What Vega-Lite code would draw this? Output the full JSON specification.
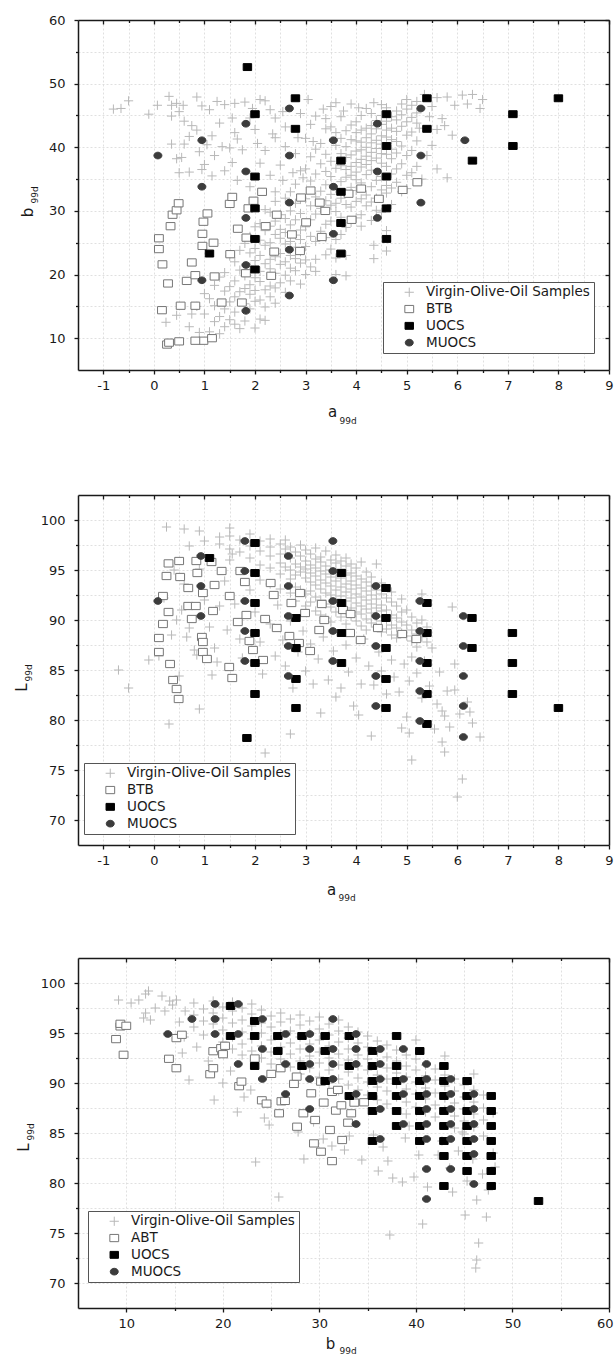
{
"$schema": "https://vega.github.io/schema/vega-lite/v6.json",
"padding": {"left": 14, "top": 14, "right": 0, "bottom": 0},
"spacing": 55,
"resolve": {"scale": {"shape": "independent", "fill": "independent", "stroke": "independent", "size": "independent"}, "legend": {"shape": "independent", "fill": "independent", "stroke": "independent", "size": "independent"}},
"config": {
  "view": {"stroke": null},
  "font": "DejaVu Sans",
  "axis": {"labelFont": "DejaVu Sans", "labelFontSize": 13, "labelColor": "#1a1a1a", "domainColor": "#1a1a1a", "domainWidth": 1.5, "tickColor": "#1a1a1a", "tickWidth": 1.3, "titleFont": "DejaVu Sans", "titleColor": "#1a1a1a", "titleFontWeight": "normal", "gridColor": "#d8d8d8", "gridDash": [2, 2], "gridWidth": 0.8, "labelOverlap": false, "labelFlush": false, "labelBound": false}
},
"vconcat": [
{
  "width": 531, "height": 350,
  "data": {"values": [
{"x":-0.8,"y":46,"g":"V"},{"x":-0.5,"y":47.3,"g":"V"},{"x":-0.65,"y":46.1,"g":"V"},{"x":-0.1,"y":45.2,"g":"V"},{"x":0.07,"y":46.6,"g":"V"},{"x":0.3,"y":48,"g":"V"},{"x":0.35,"y":46.6,"g":"V"},{"x":0.45,"y":46.9,"g":"V"},{"x":0.5,"y":45.6,"g":"V"},{"x":0.58,"y":46.6,"g":"V"},{"x":0.85,"y":47.9,"g":"V"},{"x":0.95,"y":46.5,"g":"V"},{"x":1.1,"y":45.9,"g":"V"},{"x":1.25,"y":47.2,"g":"V"},{"x":1.4,"y":46.7,"g":"V"},{"x":1.55,"y":44.6,"g":"V"},{"x":1.6,"y":46.9,"g":"V"},{"x":1.8,"y":47.1,"g":"V"},{"x":1.95,"y":46.1,"g":"V"},{"x":2.1,"y":47.5,"g":"V"},{"x":2.2,"y":47.3,"g":"V"},{"x":2.3,"y":45.9,"g":"V"},{"x":2.4,"y":44.6,"g":"V"},{"x":2.55,"y":45.6,"g":"V"},{"x":2.9,"y":45.3,"g":"V"},{"x":3.05,"y":47.5,"g":"V"},{"x":3.2,"y":44.9,"g":"V"},{"x":3.35,"y":46,"g":"V"},{"x":3.5,"y":46.4,"g":"V"},{"x":3.6,"y":47,"g":"V"},{"x":3.75,"y":45.7,"g":"V"},{"x":3.9,"y":46.8,"g":"V"},{"x":4.05,"y":46.2,"g":"V"},{"x":4.2,"y":46.1,"g":"V"},{"x":4.35,"y":47,"g":"V"},{"x":0.35,"y":44.9,"g":"V"},{"x":0.75,"y":43.4,"g":"V"},{"x":1.3,"y":43.8,"g":"V"},{"x":2.6,"y":43.2,"g":"V"},{"x":3.1,"y":43.6,"g":"V"},{"x":3.4,"y":42.9,"g":"V"},{"x":0.6,"y":44.1,"g":"V"},{"x":1.9,"y":44.6,"g":"V"},{"x":2,"y":42.8,"g":"V"},{"x":2.35,"y":42.1,"g":"V"},{"x":2.85,"y":41.5,"g":"V"},{"x":3.15,"y":40.9,"g":"V"},
{"x":0.35,"y":40.5,"g":"V"},{"x":0.6,"y":40.5,"g":"V"},{"x":0.45,"y":38.2,"g":"V"},{"x":0.55,"y":38.4,"g":"V"},{"x":0.7,"y":41.7,"g":"V"},{"x":0.9,"y":39.3,"g":"V"},{"x":1.05,"y":40.4,"g":"V"},{"x":1.15,"y":41.8,"g":"V"},{"x":1.2,"y":38.7,"g":"V"},{"x":1.35,"y":40.1,"g":"V"},{"x":1.5,"y":39.9,"g":"V"},{"x":1.65,"y":41.3,"g":"V"},{"x":1.55,"y":37.6,"g":"V"},{"x":1.75,"y":39.6,"g":"V"},{"x":2.05,"y":40.6,"g":"V"},{"x":2.2,"y":39.5,"g":"V"},{"x":2.4,"y":41.5,"g":"V"},{"x":2.5,"y":37.2,"g":"V"},{"x":2.6,"y":40.1,"g":"V"},{"x":2.8,"y":39,"g":"V"},{"x":3,"y":41.4,"g":"V"},{"x":2.9,"y":36.3,"g":"V"},{"x":0.7,"y":36.1,"g":"V"},{"x":0.95,"y":36.5,"g":"V"},{"x":1.15,"y":35.5,"g":"V"},{"x":1.4,"y":36.3,"g":"V"},{"x":1.65,"y":34.8,"g":"V"},{"x":2.1,"y":37.5,"g":"V"},{"x":2.3,"y":35.6,"g":"V"},{"x":2.55,"y":34.8,"g":"V"},{"x":2.75,"y":36,"g":"V"},{"x":2.95,"y":35.2,"g":"V"},{"x":1,"y":37.3,"g":"V"},{"x":0.85,"y":42.7,"g":"V"},{"x":1.6,"y":42.3,"g":"V"},{"x":0.5,"y":36,"g":"V"},{"x":1.9,"y":33.8,"g":"V"},{"x":2.4,"y":33,"g":"V"},{"x":2.8,"y":34.2,"g":"V"},
{"x":3,"y":27.5,"g":"V"},{"x":3,"y":31.9,"g":"V"},{"x":3,"y":36.6,"g":"V"},{"x":3,"y":24.4,"g":"V"},{"x":3.1,"y":26,"g":"V"},{"x":3.1,"y":28.6,"g":"V"},{"x":3.1,"y":30.8,"g":"V"},{"x":3.1,"y":34.7,"g":"V"},{"x":3.1,"y":38.5,"g":"V"},{"x":3.2,"y":25.2,"g":"V"},{"x":3.2,"y":29.5,"g":"V"},{"x":3.2,"y":32.2,"g":"V"},{"x":3.2,"y":35.8,"g":"V"},{"x":3.2,"y":39.7,"g":"V"},{"x":3.3,"y":26.8,"g":"V"},{"x":3.3,"y":30.4,"g":"V"},{"x":3.3,"y":33.1,"g":"V"},{"x":3.3,"y":37.4,"g":"V"},{"x":3.3,"y":40.6,"g":"V"},{"x":3.4,"y":25.8,"g":"V"},{"x":3.4,"y":27.9,"g":"V"},{"x":3.4,"y":31.6,"g":"V"},{"x":3.4,"y":34.1,"g":"V"},{"x":3.4,"y":36.2,"g":"V"},{"x":3.4,"y":38.9,"g":"V"},{"x":3.4,"y":44.5,"g":"V"},{"x":3.5,"y":24,"g":"V"},{"x":3.5,"y":28.4,"g":"V"},{"x":3.5,"y":30.9,"g":"V"},{"x":3.5,"y":32.6,"g":"V"},{"x":3.5,"y":35.4,"g":"V"},{"x":3.5,"y":37.8,"g":"V"},{"x":3.5,"y":43.2,"g":"V"},{"x":3.6,"y":25.5,"g":"V"},{"x":3.6,"y":29.9,"g":"V"},{"x":3.6,"y":31.2,"g":"V"},{"x":3.6,"y":33.5,"g":"V"},{"x":3.6,"y":36.7,"g":"V"},{"x":3.6,"y":40.3,"g":"V"},{"x":3.6,"y":42.3,"g":"V"},{"x":3.7,"y":26.3,"g":"V"},{"x":3.7,"y":29,"g":"V"},{"x":3.7,"y":32,"g":"V"},{"x":3.7,"y":34.6,"g":"V"},{"x":3.7,"y":37.1,"g":"V"},{"x":3.7,"y":39,"g":"V"},{"x":3.7,"y":41.4,"g":"V"},{"x":3.7,"y":44.8,"g":"V"},{"x":3.8,"y":27.4,"g":"V"},{"x":3.8,"y":31,"g":"V"},{"x":3.8,"y":32.8,"g":"V"},{"x":3.8,"y":35.3,"g":"V"},{"x":3.8,"y":36.5,"g":"V"},{"x":3.8,"y":38.4,"g":"V"},{"x":3.8,"y":40.1,"g":"V"},{"x":3.8,"y":42.6,"g":"V"},{"x":3.9,"y":28.2,"g":"V"},{"x":3.9,"y":30.6,"g":"V"},{"x":3.9,"y":33.7,"g":"V"},{"x":3.9,"y":35.6,"g":"V"},{"x":3.9,"y":37,"g":"V"},{"x":3.9,"y":38.8,"g":"V"},{"x":3.9,"y":41.2,"g":"V"},{"x":3.9,"y":43.5,"g":"V"},{"x":4,"y":28.9,"g":"V"},{"x":4,"y":31.5,"g":"V"},{"x":4,"y":33.2,"g":"V"},{"x":4,"y":34.9,"g":"V"},{"x":4,"y":36.1,"g":"V"},{"x":4,"y":37.6,"g":"V"},{"x":4,"y":39.4,"g":"V"},{"x":4,"y":41,"g":"V"},{"x":4,"y":42.3,"g":"V"},{"x":4,"y":44,"g":"V"},{"x":4.1,"y":27.6,"g":"V"},{"x":4.1,"y":29.4,"g":"V"},{"x":4.1,"y":31.9,"g":"V"},{"x":4.1,"y":34.4,"g":"V"},{"x":4.1,"y":36.9,"g":"V"},{"x":4.1,"y":38.1,"g":"V"},{"x":4.1,"y":39.6,"g":"V"},{"x":4.1,"y":40.8,"g":"V"},{"x":4.1,"y":42.7,"g":"V"},{"x":4.1,"y":45,"g":"V"},{"x":4.2,"y":30.8,"g":"V"},{"x":4.2,"y":32.5,"g":"V"},{"x":4.2,"y":35.7,"g":"V"},{"x":4.2,"y":37.3,"g":"V"},{"x":4.2,"y":38.6,"g":"V"},{"x":4.2,"y":40,"g":"V"},{"x":4.2,"y":41.5,"g":"V"},{"x":4.2,"y":43,"g":"V"},{"x":4.3,"y":28.5,"g":"V"},{"x":4.3,"y":31.4,"g":"V"},{"x":4.3,"y":33.8,"g":"V"},{"x":4.3,"y":36.4,"g":"V"},{"x":4.3,"y":37.9,"g":"V"},{"x":4.3,"y":39.2,"g":"V"},{"x":4.3,"y":40.7,"g":"V"},{"x":4.3,"y":42.1,"g":"V"},{"x":4.3,"y":43.4,"g":"V"},{"x":4.3,"y":45.3,"g":"V"},{"x":4.4,"y":30.1,"g":"V"},{"x":4.4,"y":32,"g":"V"},{"x":4.4,"y":34.8,"g":"V"},{"x":4.4,"y":38.3,"g":"V"},{"x":4.4,"y":39.8,"g":"V"},{"x":4.4,"y":41.1,"g":"V"},{"x":4.4,"y":42.9,"g":"V"},{"x":4.4,"y":44.2,"g":"V"},{"x":4.5,"y":29.8,"g":"V"},{"x":4.5,"y":33.3,"g":"V"},{"x":4.5,"y":35.4,"g":"V"},{"x":4.5,"y":37.5,"g":"V"},{"x":4.5,"y":39,"g":"V"},{"x":4.5,"y":40.5,"g":"V"},{"x":4.5,"y":41.8,"g":"V"},{"x":4.5,"y":43.6,"g":"V"},{"x":4.5,"y":45,"g":"V"},{"x":4.5,"y":46.7,"g":"V"},{"x":4.6,"y":32.8,"g":"V"},{"x":4.6,"y":34,"g":"V"},{"x":4.6,"y":37,"g":"V"},{"x":4.6,"y":38.9,"g":"V"},{"x":4.6,"y":41.6,"g":"V"},{"x":4.6,"y":42.7,"g":"V"},{"x":4.6,"y":44.1,"g":"V"},{"x":4.6,"y":46.2,"g":"V"},{"x":4.7,"y":31,"g":"V"},{"x":4.7,"y":33.6,"g":"V"},{"x":4.7,"y":35.8,"g":"V"},{"x":4.7,"y":38.2,"g":"V"},{"x":4.7,"y":39.7,"g":"V"},{"x":4.7,"y":41.2,"g":"V"},{"x":4.7,"y":43,"g":"V"},{"x":4.7,"y":44.8,"g":"V"},{"x":4.8,"y":34.5,"g":"V"},{"x":4.8,"y":36.6,"g":"V"},{"x":4.8,"y":39.1,"g":"V"},{"x":4.8,"y":40.9,"g":"V"},{"x":4.8,"y":42.5,"g":"V"},{"x":4.8,"y":44.3,"g":"V"},{"x":4.8,"y":45.7,"g":"V"},{"x":4.9,"y":33,"g":"V"},{"x":4.9,"y":37.4,"g":"V"},{"x":4.9,"y":40.2,"g":"V"},{"x":4.9,"y":43.3,"g":"V"},{"x":4.9,"y":45.1,"g":"V"},{"x":4.9,"y":46.8,"g":"V"},{"x":5,"y":35.6,"g":"V"},{"x":5,"y":38.7,"g":"V"},{"x":5,"y":41.9,"g":"V"},{"x":5,"y":44,"g":"V"},{"x":5,"y":46,"g":"V"},{"x":5,"y":47.5,"g":"V"},{"x":5.1,"y":39.5,"g":"V"},{"x":5.1,"y":42.4,"g":"V"},{"x":5.1,"y":44.7,"g":"V"},{"x":5.1,"y":46.6,"g":"V"},{"x":5.2,"y":37,"g":"V"},{"x":5.2,"y":41,"g":"V"},{"x":5.2,"y":43.8,"g":"V"},{"x":5.2,"y":45.4,"g":"V"},
{"x":1,"y":13.8,"g":"V"},{"x":1,"y":17,"g":"V"},{"x":1.1,"y":11,"g":"V"},{"x":1.1,"y":16.2,"g":"V"},{"x":1.2,"y":12.6,"g":"V"},{"x":1.2,"y":15.1,"g":"V"},{"x":1.2,"y":18.3,"g":"V"},{"x":1.3,"y":10.7,"g":"V"},{"x":1.3,"y":13.4,"g":"V"},{"x":1.3,"y":19.6,"g":"V"},{"x":1.4,"y":11.8,"g":"V"},{"x":1.4,"y":14.6,"g":"V"},{"x":1.4,"y":17.4,"g":"V"},{"x":1.4,"y":20.3,"g":"V"},{"x":1.5,"y":12.9,"g":"V"},{"x":1.5,"y":15.7,"g":"V"},{"x":1.5,"y":18.1,"g":"V"},{"x":1.5,"y":22.9,"g":"V"},{"x":1.6,"y":12.2,"g":"V"},{"x":1.6,"y":14.1,"g":"V"},{"x":1.6,"y":16.5,"g":"V"},{"x":1.6,"y":19,"g":"V"},{"x":1.6,"y":22,"g":"V"},{"x":1.7,"y":11.5,"g":"V"},{"x":1.7,"y":17.3,"g":"V"},{"x":1.7,"y":20.7,"g":"V"},{"x":1.7,"y":23.8,"g":"V"},{"x":1.8,"y":12.7,"g":"V"},{"x":1.8,"y":15.4,"g":"V"},{"x":1.8,"y":17.8,"g":"V"},{"x":1.8,"y":19.8,"g":"V"},{"x":1.8,"y":24.9,"g":"V"},{"x":1.9,"y":14.6,"g":"V"},{"x":1.9,"y":16.9,"g":"V"},{"x":1.9,"y":18.4,"g":"V"},{"x":1.9,"y":21.2,"g":"V"},{"x":1.9,"y":23.4,"g":"V"},{"x":1.9,"y":26,"g":"V"},{"x":2,"y":11.6,"g":"V"},{"x":2,"y":15.8,"g":"V"},{"x":2,"y":17.5,"g":"V"},{"x":2,"y":19.5,"g":"V"},{"x":2,"y":22.2,"g":"V"},{"x":2,"y":24.1,"g":"V"},{"x":2,"y":27.5,"g":"V"},{"x":2.1,"y":13,"g":"V"},{"x":2.1,"y":16,"g":"V"},{"x":2.1,"y":18.9,"g":"V"},{"x":2.1,"y":20.5,"g":"V"},{"x":2.1,"y":23,"g":"V"},{"x":2.1,"y":25.4,"g":"V"},{"x":2.1,"y":28,"g":"V"},{"x":2.2,"y":12.8,"g":"V"},{"x":2.2,"y":14.9,"g":"V"},{"x":2.2,"y":17.6,"g":"V"},{"x":2.2,"y":21.7,"g":"V"},{"x":2.2,"y":24.6,"g":"V"},{"x":2.2,"y":26.9,"g":"V"},{"x":2.2,"y":30.2,"g":"V"},{"x":2.3,"y":16.5,"g":"V"},{"x":2.3,"y":18.2,"g":"V"},{"x":2.3,"y":20.9,"g":"V"},{"x":2.3,"y":22.4,"g":"V"},{"x":2.3,"y":25,"g":"V"},{"x":2.3,"y":27.6,"g":"V"},{"x":2.3,"y":29.8,"g":"V"},{"x":2.4,"y":15.5,"g":"V"},{"x":2.4,"y":17.9,"g":"V"},{"x":2.4,"y":20.2,"g":"V"},{"x":2.4,"y":22.8,"g":"V"},{"x":2.4,"y":26.3,"g":"V"},{"x":2.4,"y":28.4,"g":"V"},{"x":2.4,"y":31.5,"g":"V"},{"x":2.5,"y":18.7,"g":"V"},{"x":2.5,"y":21.6,"g":"V"},{"x":2.5,"y":23.3,"g":"V"},{"x":2.5,"y":25.7,"g":"V"},{"x":2.5,"y":27.1,"g":"V"},{"x":2.5,"y":29.4,"g":"V"},{"x":2.6,"y":17.2,"g":"V"},{"x":2.6,"y":19.9,"g":"V"},{"x":2.6,"y":22,"g":"V"},{"x":2.6,"y":24.8,"g":"V"},{"x":2.6,"y":26.6,"g":"V"},{"x":2.6,"y":28.8,"g":"V"},{"x":2.6,"y":32,"g":"V"},{"x":2.7,"y":19,"g":"V"},{"x":2.7,"y":21,"g":"V"},{"x":2.7,"y":23,"g":"V"},{"x":2.7,"y":25.2,"g":"V"},{"x":2.7,"y":27.8,"g":"V"},{"x":2.7,"y":30,"g":"V"},{"x":2.7,"y":33,"g":"V"},{"x":2.8,"y":20.6,"g":"V"},{"x":2.8,"y":22.5,"g":"V"},{"x":2.8,"y":24.3,"g":"V"},{"x":2.8,"y":26.2,"g":"V"},{"x":2.8,"y":28.6,"g":"V"},{"x":2.8,"y":31.2,"g":"V"},{"x":2.9,"y":18.5,"g":"V"},{"x":2.9,"y":21.8,"g":"V"},{"x":2.9,"y":23.6,"g":"V"},{"x":2.9,"y":25.5,"g":"V"},{"x":2.9,"y":27,"g":"V"},{"x":2.9,"y":29.6,"g":"V"},{"x":2.9,"y":31.8,"g":"V"},{"x":3,"y":20,"g":"V"},{"x":3,"y":22.3,"g":"V"},{"x":3.1,"y":21.2,"g":"V"},{"x":3.2,"y":22.4,"g":"V"},{"x":3.2,"y":20.5,"g":"V"},{"x":3.4,"y":23.1,"g":"V"},{"x":3.6,"y":20,"g":"V"},{"x":3.6,"y":22.6,"g":"V"},{"x":3.8,"y":19.8,"g":"V"},{"x":3.8,"y":23,"g":"V"},{"x":4.35,"y":22.5,"g":"V"},{"x":4.35,"y":24.6,"g":"V"},{"x":4.6,"y":23.7,"g":"V"},{"x":4.6,"y":26.9,"g":"V"},
{"x":5.2,"y":47.2,"g":"V"},{"x":5.35,"y":48.3,"g":"V"},{"x":5.5,"y":46.4,"g":"V"},{"x":5.6,"y":47.8,"g":"V"},{"x":5.7,"y":44.5,"g":"V"},{"x":5.8,"y":47.9,"g":"V"},{"x":5.95,"y":46.6,"g":"V"},{"x":6.1,"y":48.2,"g":"V"},{"x":6.2,"y":46.8,"g":"V"},{"x":6.3,"y":48.3,"g":"V"},{"x":6.45,"y":46.1,"g":"V"},{"x":6.5,"y":47.5,"g":"V"},{"x":5.6,"y":42.8,"g":"V"},{"x":5.75,"y":43.4,"g":"V"},{"x":5.5,"y":40.3,"g":"V"},{"x":5.9,"y":41.9,"g":"V"},{"x":5.4,"y":38.7,"g":"V"},{"x":5.6,"y":36.6,"g":"V"},{"x":5.8,"y":35.2,"g":"V"},{"x":5,"y":33.5,"g":"V"},{"x":5.1,"y":36,"g":"V"},{"x":5.3,"y":35,"g":"V"},{"x":5.45,"y":44.8,"g":"V"},{"x":5.25,"y":43,"g":"V"},{"x":0.24,"y":12.5,"g":"V"},{"x":0.7,"y":11.8,"g":"V"},{"x":0.9,"y":10.9,"g":"V"},{"x":0.75,"y":13.8,"g":"V"},{"x":0.85,"y":15,"g":"V"},{"x":0.45,"y":13.6,"g":"V"},
{"x":0.1,"y":25.7,"g":"B"},{"x":0.1,"y":24,"g":"B"},{"x":0.17,"y":21.6,"g":"B"},{"x":0.28,"y":18.6,"g":"B"},{"x":0.16,"y":14.4,"g":"B"},{"x":0.26,"y":9,"g":"B"},{"x":0.3,"y":9.3,"g":"B"},{"x":0.33,"y":27.6,"g":"B"},{"x":0.37,"y":29.4,"g":"B"},{"x":0.45,"y":30.1,"g":"B"},{"x":0.49,"y":31.2,"g":"B"},{"x":0.53,"y":15.1,"g":"B"},{"x":0.5,"y":9.5,"g":"B"},{"x":0.65,"y":19,"g":"B"},{"x":0.75,"y":21.9,"g":"B"},{"x":0.82,"y":19.9,"g":"B"},{"x":0.82,"y":15.1,"g":"B"},{"x":0.98,"y":28.3,"g":"B"},{"x":0.96,"y":26.4,"g":"B"},{"x":0.96,"y":24.5,"g":"B"},{"x":1.06,"y":29.6,"g":"B"},{"x":1.18,"y":25,"g":"B"},{"x":1.2,"y":19.7,"g":"B"},{"x":0.98,"y":9.6,"g":"B"},{"x":1.15,"y":10,"g":"B"},{"x":0.82,"y":9.6,"g":"B"},{"x":1.34,"y":15.6,"g":"B"},{"x":1.51,"y":23.2,"g":"B"},{"x":1.5,"y":31.1,"g":"B"},{"x":1.55,"y":32.2,"g":"B"},{"x":1.66,"y":27.2,"g":"B"},{"x":1.74,"y":15.6,"g":"B"},{"x":1.82,"y":20.2,"g":"B"},{"x":1.83,"y":25.8,"g":"B"},{"x":1.97,"y":31.6,"g":"B"},{"x":1.87,"y":30.4,"g":"B"},{"x":2.14,"y":33,"g":"B"},{"x":2.21,"y":27.6,"g":"B"},{"x":2.32,"y":19.8,"g":"B"},{"x":2.38,"y":23.6,"g":"B"},{"x":2.43,"y":29.4,"g":"B"},{"x":2.73,"y":26.3,"g":"B"},{"x":2.89,"y":23.7,"g":"B"},{"x":2.91,"y":32.1,"g":"B"},{"x":3.01,"y":28.2,"g":"B"},{"x":3.1,"y":33.2,"g":"B"},{"x":3.28,"y":31.3,"g":"B"},{"x":3.32,"y":25.9,"g":"B"},{"x":3.39,"y":30,"g":"B"},{"x":3.85,"y":32.7,"g":"B"},{"x":3.91,"y":28.6,"g":"B"},{"x":4.1,"y":33.5,"g":"B"},{"x":4.45,"y":31.9,"g":"B"},{"x":4.92,"y":33.3,"g":"B"},{"x":5.21,"y":34.5,"g":"B"},
{"x":1.85,"y":52.6,"g":"U"},{"x":2,"y":45.2,"g":"U"},{"x":2.8,"y":47.7,"g":"U"},{"x":2.8,"y":42.9,"g":"U"},{"x":2,"y":35.4,"g":"U"},{"x":2,"y":30.4,"g":"U"},{"x":2,"y":25.6,"g":"U"},{"x":2,"y":20.8,"g":"U"},{"x":1.1,"y":23.3,"g":"U"},{"x":3.7,"y":37.9,"g":"U"},{"x":3.7,"y":33,"g":"U"},{"x":3.7,"y":28.1,"g":"U"},{"x":3.7,"y":23.3,"g":"U"},{"x":4.6,"y":45.2,"g":"U"},{"x":4.6,"y":40.2,"g":"U"},{"x":4.6,"y":35.4,"g":"U"},{"x":4.6,"y":30.4,"g":"U"},{"x":4.6,"y":25.6,"g":"U"},{"x":5.4,"y":47.7,"g":"U"},{"x":5.4,"y":42.9,"g":"U"},{"x":6.3,"y":37.9,"g":"U"},{"x":7.1,"y":45.2,"g":"U"},{"x":7.1,"y":40.2,"g":"U"},{"x":8,"y":47.7,"g":"U"},
{"x":0.08,"y":38.7,"g":"M"},{"x":0.95,"y":41.1,"g":"M"},{"x":0.95,"y":33.8,"g":"M"},{"x":0.95,"y":19.1,"g":"M"},{"x":1.82,"y":43.7,"g":"M"},{"x":1.82,"y":36.2,"g":"M"},{"x":1.82,"y":28.9,"g":"M"},{"x":1.82,"y":21.5,"g":"M"},{"x":1.82,"y":14.3,"g":"M"},{"x":2.68,"y":46.1,"g":"M"},{"x":2.68,"y":38.7,"g":"M"},{"x":2.68,"y":31.3,"g":"M"},{"x":2.68,"y":23.9,"g":"M"},{"x":2.68,"y":16.7,"g":"M"},{"x":3.55,"y":41.1,"g":"M"},{"x":3.55,"y":33.8,"g":"M"},{"x":3.55,"y":26.4,"g":"M"},{"x":3.55,"y":19.1,"g":"M"},{"x":4.42,"y":43.7,"g":"M"},{"x":4.42,"y":36.2,"g":"M"},{"x":4.42,"y":28.9,"g":"M"},{"x":5.28,"y":46.1,"g":"M"},{"x":5.28,"y":38.7,"g":"M"},{"x":5.28,"y":31.3,"g":"M"},{"x":6.15,"y":41.1,"g":"M"}
  ]},
  "layer": [
    {"mark": {"type": "point", "strokeWidth": 1, "opacity": 1},
     "encoding": {
       "x": {"field": "x", "type": "quantitative", "scale": {"domain": [-1.5, 9], "nice": false, "zero": false},
             "axis": {"orient": "bottom", "values": [-1,-0.5,0,0.5,1,1.5,2,2.5,3,3.5,4,4.5,5,5.5,6,6.5,7,7.5,8,8.5,9], "tickSize": {"condition": {"test": "datum.value % 1 === 0", "value": 4}, "value": 2.5}, "labelExpr": "datum.value % 1 === 0 ? '' + datum.value : ''", "labelPadding": 5, "grid": true, "title": "a", "titleFontSize": 15, "titleX": 254, "titleY": 46, "titleAlign": "center", "titleBaseline": "alphabetic", "titleAngle": 0}},
       "y": {"field": "y", "type": "quantitative", "scale": {"domain": [5, 60], "nice": false, "zero": false},
             "axis": {"orient": "left", "values": [10,15,20,25,30,35,40,45,50,55,60], "tickSize": {"condition": {"test": "datum.value % 10 === 0", "value": 4}, "value": 2.5}, "labelExpr": "datum.value % 10 === 0 ? '' + datum.value : ''", "labelPadding": 9, "grid": true, "title": "b", "titleFontSize": 15, "titleX": -46, "titleY": 192, "titleAlign": "center", "titleBaseline": "alphabetic", "titleAngle": -90}},
       "shape": {"field": "g", "type": "nominal", "scale": {"domain": ["V","B","U","M"], "range": ["M-1,0H1M0,-1V1", "M-1,-0.82H1V0.82H-1Z", "M-1,-0.82H1V0.82H-1Z", "M-1,0A1,0.84,0,1,1,1,0A1,0.84,0,1,1,-1,0Z"]},
                 "legend": {"orient": "none", "legendX": 305, "legendY": 262, "title": null, "labelExpr": "datum.label == 'V' ? 'Virgin-Olive-Oil Samples' : datum.label == 'B' ? 'BTB' : datum.label == 'U' ? 'UOCS' : 'MUOCS'", "strokeColor": "#555555", "fillColor": "#ffffff", "padding": 3.5, "symbolOffset": 16, "labelOffset": 10, "rowPadding": 1.8, "labelFontSize": 13.5, "labelFont": "DejaVu Sans", "labelColor": "#1a1a1a", "symbolStrokeWidth": 1, "labelLimit": 400}},
       "fill": {"field": "g", "type": "nominal", "scale": {"domain": ["V","B","U","M"], "range": ["transparent", "#ffffff", "#000000", "#3c3c3c"]},
                 "legend": {"orient": "none", "legendX": 305, "legendY": 262, "title": null, "labelExpr": "datum.label == 'V' ? 'Virgin-Olive-Oil Samples' : datum.label == 'B' ? 'BTB' : datum.label == 'U' ? 'UOCS' : 'MUOCS'", "strokeColor": "#555555", "fillColor": "#ffffff", "padding": 3.5, "symbolOffset": 16, "labelOffset": 10, "rowPadding": 1.8, "labelFontSize": 13.5, "labelFont": "DejaVu Sans", "labelColor": "#1a1a1a", "symbolStrokeWidth": 1, "labelLimit": 400}},
       "stroke": {"field": "g", "type": "nominal", "scale": {"domain": ["V","B","U","M"], "range": ["#b8b8b8", "#767676", "#000000", "#3c3c3c"]},
                 "legend": {"orient": "none", "legendX": 305, "legendY": 262, "title": null, "labelExpr": "datum.label == 'V' ? 'Virgin-Olive-Oil Samples' : datum.label == 'B' ? 'BTB' : datum.label == 'U' ? 'UOCS' : 'MUOCS'", "strokeColor": "#555555", "fillColor": "#ffffff", "padding": 3.5, "symbolOffset": 16, "labelOffset": 10, "rowPadding": 1.8, "labelFontSize": 13.5, "labelFont": "DejaVu Sans", "labelColor": "#1a1a1a", "symbolStrokeWidth": 1, "labelLimit": 400}},
       "size": {"field": "g", "type": "nominal", "scale": {"domain": ["V","B","U","M"], "range": [85, 64, 68, 144]},
                 "legend": {"orient": "none", "legendX": 305, "legendY": 262, "title": null, "labelExpr": "datum.label == 'V' ? 'Virgin-Olive-Oil Samples' : datum.label == 'B' ? 'BTB' : datum.label == 'U' ? 'UOCS' : 'MUOCS'", "strokeColor": "#555555", "fillColor": "#ffffff", "padding": 3.5, "symbolOffset": 16, "labelOffset": 10, "rowPadding": 1.8, "labelFontSize": 13.5, "labelFont": "DejaVu Sans", "labelColor": "#1a1a1a", "symbolStrokeWidth": 1, "labelLimit": 400}}
     }},
    {"data": {"values": [{"x": 0, "y": 10}]}, "mark": {"type": "point", "opacity": 0},
     "encoding": {
       "x": {"field": "x", "type": "quantitative", "scale": {"domain": [-1.5, 9], "nice": false, "zero": false},
             "axis": {"orient": "top", "values": [-1,-0.5,0,0.5,1,1.5,2,2.5,3,3.5,4,4.5,5,5.5,6,6.5,7,7.5,8,8.5,9], "tickSize": {"condition": {"test": "datum.value % 1 === 0", "value": -4}, "value": -2.5}, "labels": false, "grid": false, "title": null}},
       "y": {"field": "y", "type": "quantitative", "scale": {"domain": [5, 60], "nice": false, "zero": false},
             "axis": {"orient": "right", "values": [10,15,20,25,30,35,40,45,50,55,60], "tickSize": {"condition": {"test": "datum.value % 10 === 0", "value": -4}, "value": -2.5}, "labels": false, "grid": false, "title": null}}
     }},
    {"data": {"values": [{"x": 0, "y": 10}]}, "mark": {"type": "point", "opacity": 0},
     "encoding": {
       "x": {"field": "x", "type": "quantitative", "scale": {"domain": [-1.5, 9], "nice": false, "zero": false},
             "axis": {"orient": "bottom", "labels": false, "ticks": false, "domain": false, "grid": false, "title": "99d", "titleFontSize": 9, "titleX": 261, "titleY": 53, "titleAlign": "left", "titleBaseline": "alphabetic", "titleAngle": 0}},
       "y": {"field": "y", "type": "quantitative", "scale": {"domain": [5, 60], "nice": false, "zero": false},
             "axis": {"orient": "left", "labels": false, "ticks": false, "domain": false, "grid": false, "title": "99d", "titleFontSize": 9, "titleX": -41, "titleY": 183, "titleAlign": "left", "titleBaseline": "alphabetic", "titleAngle": -90}}
     }}
  ],
  "resolve": {"axis": {"x": "independent", "y": "independent"}}
},
{
  "width": 531, "height": 350,
  "title": {"text": " ", "fontSize": 12, "offset": 1},
  "data": {"values": [
{"x":0.25,"y":99.3,"g":"V"},{"x":0.6,"y":99.1,"g":"V"},{"x":0.9,"y":98.9,"g":"V"},{"x":1.5,"y":99.2,"g":"V"},{"x":-0.7,"y":85,"g":"V"},{"x":-0.5,"y":83.2,"g":"V"},{"x":-0.1,"y":86,"g":"V"},{"x":0.3,"y":79.6,"g":"V"},{"x":0.9,"y":81.1,"g":"V"},{"x":2.2,"y":76.7,"g":"V"},{"x":2.7,"y":78.6,"g":"V"},{"x":3.3,"y":80.7,"g":"V"},{"x":4.3,"y":78.4,"g":"V"},{"x":4.05,"y":80.5,"g":"V"},{"x":5.1,"y":76,"g":"V"},{"x":5.75,"y":76.8,"g":"V"},{"x":5.7,"y":77.8,"g":"V"},{"x":6,"y":72.3,"g":"V"},{"x":6.1,"y":74.1,"g":"V"},{"x":6.45,"y":78.3,"g":"V"},{"x":5.95,"y":83,"g":"V"},{"x":6.2,"y":81.8,"g":"V"},{"x":5.9,"y":91.3,"g":"V"},{"x":6.25,"y":80.8,"g":"V"},{"x":5,"y":80.3,"g":"V"},{"x":5.05,"y":78.7,"g":"V"},{"x":4.9,"y":79.2,"g":"V"},
{"x":0.2,"y":92.2,"g":"V"},{"x":0.35,"y":88.5,"g":"V"},{"x":0.45,"y":90,"g":"V"},{"x":0.55,"y":91,"g":"V"},{"x":0.6,"y":93.6,"g":"V"},{"x":0.7,"y":89.2,"g":"V"},{"x":0.8,"y":87,"g":"V"},{"x":0.85,"y":86.5,"g":"V"},{"x":0.9,"y":95.1,"g":"V"},{"x":1,"y":92,"g":"V"},{"x":1.1,"y":89.3,"g":"V"},{"x":1.2,"y":87.2,"g":"V"},{"x":1.25,"y":85.8,"g":"V"},{"x":1.3,"y":91.4,"g":"V"},{"x":1.4,"y":93.9,"g":"V"},{"x":1.45,"y":89,"g":"V"},{"x":1.55,"y":96.6,"g":"V"},{"x":1.6,"y":91.6,"g":"V"},{"x":1.7,"y":88.1,"g":"V"},{"x":1.75,"y":86.2,"g":"V"},{"x":1.9,"y":93,"g":"V"},{"x":0.7,"y":97.4,"g":"V"},{"x":1,"y":97.9,"g":"V"},{"x":0.4,"y":95,"g":"V"},{"x":0.1,"y":86.4,"g":"V"},{"x":0.5,"y":84.4,"g":"V"},{"x":1.15,"y":84.5,"g":"V"},{"x":0.65,"y":88.3,"g":"V"},
{"x":2,"y":90.8,"g":"V"},{"x":2.1,"y":87.8,"g":"V"},{"x":2.15,"y":84.6,"g":"V"},{"x":2.3,"y":89.6,"g":"V"},{"x":2.4,"y":86.4,"g":"V"},{"x":2.45,"y":91.5,"g":"V"},{"x":2.55,"y":88,"g":"V"},{"x":2.6,"y":85.4,"g":"V"},{"x":2.7,"y":89.9,"g":"V"},{"x":2.75,"y":83.2,"g":"V"},{"x":2.85,"y":86.8,"g":"V"},{"x":2.95,"y":88.9,"g":"V"},{"x":3,"y":84.9,"g":"V"},{"x":3.1,"y":87.6,"g":"V"},{"x":3.15,"y":83.6,"g":"V"},{"x":3.25,"y":86.1,"g":"V"},{"x":3.35,"y":88.3,"g":"V"},{"x":3.45,"y":84,"g":"V"},{"x":3.55,"y":86.9,"g":"V"},{"x":3.6,"y":82.3,"g":"V"},{"x":3.7,"y":83.2,"g":"V"},{"x":3.8,"y":87.5,"g":"V"},{"x":3.85,"y":84.8,"g":"V"},{"x":3.95,"y":81.4,"g":"V"},{"x":4,"y":86.2,"g":"V"},{"x":4.1,"y":83.6,"g":"V"},{"x":4.15,"y":88.1,"g":"V"},{"x":4.25,"y":85.4,"g":"V"},{"x":4.35,"y":83.5,"g":"V"},{"x":4.45,"y":86.8,"g":"V"},{"x":4.5,"y":84.9,"g":"V"},{"x":4.6,"y":82.6,"g":"V"},{"x":4.7,"y":86,"g":"V"},{"x":4.75,"y":84.3,"g":"V"},{"x":4.85,"y":82.8,"g":"V"},{"x":4.95,"y":85.6,"g":"V"},{"x":5.05,"y":83.9,"g":"V"},{"x":5.1,"y":86.3,"g":"V"},{"x":5.2,"y":84.7,"g":"V"},{"x":5.3,"y":82.2,"g":"V"},{"x":5.35,"y":85.9,"g":"V"},{"x":5.45,"y":83.4,"g":"V"},{"x":5.5,"y":87.2,"g":"V"},{"x":5.6,"y":81.6,"g":"V"},{"x":5.65,"y":84.8,"g":"V"},{"x":5.75,"y":80.4,"g":"V"},{"x":5.8,"y":82.9,"g":"V"},{"x":5.85,"y":79.3,"g":"V"},{"x":5.95,"y":85.6,"g":"V"},{"x":6.05,"y":80.6,"g":"V"},{"x":6.3,"y":79.7,"g":"V"},{"x":5.55,"y":79.1,"g":"V"},{"x":5.7,"y":80.9,"g":"V"},
{"x":1.3,"y":98.3,"g":"V"},{"x":1.3,"y":97.6,"g":"V"},{"x":1.5,"y":98.4,"g":"V"},{"x":1.5,"y":97.1,"g":"V"},{"x":1.5,"y":96,"g":"V"},{"x":1.7,"y":98,"g":"V"},{"x":1.7,"y":96.8,"g":"V"},{"x":1.9,"y":98.6,"g":"V"},{"x":1.9,"y":97.4,"g":"V"},{"x":1.9,"y":96.2,"g":"V"},{"x":2.1,"y":97.9,"g":"V"},{"x":2.1,"y":96.9,"g":"V"},{"x":2.1,"y":95.5,"g":"V"},{"x":2.1,"y":94,"g":"V"},{"x":2.3,"y":98.1,"g":"V"},{"x":2.3,"y":97.3,"g":"V"},{"x":2.3,"y":96.4,"g":"V"},{"x":2.3,"y":95.2,"g":"V"},{"x":2.3,"y":93.6,"g":"V"},{"x":2.5,"y":97.6,"g":"V"},{"x":2.5,"y":96.6,"g":"V"},{"x":2.5,"y":95.7,"g":"V"},{"x":2.5,"y":94.6,"g":"V"},{"x":2.5,"y":93.1,"g":"V"},{"x":2.6,"y":98,"g":"V"},{"x":2.6,"y":97.1,"g":"V"},{"x":2.6,"y":95.3,"g":"V"},{"x":2.7,"y":97.3,"g":"V"},{"x":2.7,"y":96.2,"g":"V"},{"x":2.7,"y":95,"g":"V"},{"x":2.7,"y":94.1,"g":"V"},{"x":2.7,"y":92.7,"g":"V"},{"x":2.8,"y":96.8,"g":"V"},{"x":2.8,"y":95.6,"g":"V"},{"x":2.8,"y":94.5,"g":"V"},{"x":2.8,"y":93.3,"g":"V"},{"x":2.8,"y":91.9,"g":"V"},{"x":2.9,"y":97.5,"g":"V"},{"x":2.9,"y":96.4,"g":"V"},{"x":2.9,"y":95.3,"g":"V"},{"x":2.9,"y":94.8,"g":"V"},{"x":2.9,"y":93,"g":"V"},{"x":3,"y":97,"g":"V"},{"x":3,"y":95.9,"g":"V"},{"x":3,"y":95.1,"g":"V"},{"x":3,"y":94.2,"g":"V"},{"x":3,"y":92.6,"g":"V"},{"x":3,"y":91.4,"g":"V"},{"x":3.1,"y":96.6,"g":"V"},{"x":3.1,"y":95.5,"g":"V"},{"x":3.1,"y":94.7,"g":"V"},{"x":3.1,"y":93.8,"g":"V"},{"x":3.1,"y":92.9,"g":"V"},{"x":3.1,"y":91.8,"g":"V"},{"x":3.2,"y":97.2,"g":"V"},{"x":3.2,"y":96.1,"g":"V"},{"x":3.2,"y":95.2,"g":"V"},{"x":3.2,"y":94.4,"g":"V"},{"x":3.2,"y":93.5,"g":"V"},{"x":3.2,"y":92.3,"g":"V"},{"x":3.2,"y":90.9,"g":"V"},{"x":3.3,"y":96.3,"g":"V"},{"x":3.3,"y":95.8,"g":"V"},{"x":3.3,"y":94.9,"g":"V"},{"x":3.3,"y":94,"g":"V"},{"x":3.3,"y":93.1,"g":"V"},{"x":3.3,"y":92,"g":"V"},{"x":3.3,"y":90.5,"g":"V"},{"x":3.4,"y":96.9,"g":"V"},{"x":3.4,"y":95.4,"g":"V"},{"x":3.4,"y":94.6,"g":"V"},{"x":3.4,"y":93.7,"g":"V"},{"x":3.4,"y":92.7,"g":"V"},{"x":3.4,"y":91.6,"g":"V"},{"x":3.4,"y":90.2,"g":"V"},{"x":3.5,"y":96,"g":"V"},{"x":3.5,"y":95,"g":"V"},{"x":3.5,"y":94.3,"g":"V"},{"x":3.5,"y":93.4,"g":"V"},{"x":3.5,"y":92.5,"g":"V"},{"x":3.5,"y":91.3,"g":"V"},{"x":3.5,"y":89.8,"g":"V"},{"x":3.6,"y":96.5,"g":"V"},{"x":3.6,"y":95.7,"g":"V"},{"x":3.6,"y":94.8,"g":"V"},{"x":3.6,"y":93.9,"g":"V"},{"x":3.6,"y":93,"g":"V"},{"x":3.6,"y":92.1,"g":"V"},{"x":3.6,"y":90.8,"g":"V"},{"x":3.7,"y":95.9,"g":"V"},{"x":3.7,"y":95.1,"g":"V"},{"x":3.7,"y":94.2,"g":"V"},{"x":3.7,"y":93.3,"g":"V"},{"x":3.7,"y":92.4,"g":"V"},{"x":3.7,"y":91.5,"g":"V"},{"x":3.7,"y":90.3,"g":"V"},{"x":3.8,"y":96.2,"g":"V"},{"x":3.8,"y":95.4,"g":"V"},{"x":3.8,"y":94.5,"g":"V"},{"x":3.8,"y":93.6,"g":"V"},{"x":3.8,"y":92.8,"g":"V"},{"x":3.8,"y":91.9,"g":"V"},{"x":3.8,"y":91,"g":"V"},{"x":3.8,"y":89.6,"g":"V"},{"x":3.9,"y":95.6,"g":"V"},{"x":3.9,"y":94.7,"g":"V"},{"x":3.9,"y":93.9,"g":"V"},{"x":3.9,"y":93.1,"g":"V"},{"x":3.9,"y":92.2,"g":"V"},{"x":3.9,"y":91.2,"g":"V"},{"x":3.9,"y":90.4,"g":"V"},{"x":4,"y":95.2,"g":"V"},{"x":4,"y":94.4,"g":"V"},{"x":4,"y":93.5,"g":"V"},{"x":4,"y":92.6,"g":"V"},{"x":4,"y":91.7,"g":"V"},{"x":4,"y":90.8,"g":"V"},{"x":4,"y":89.9,"g":"V"},{"x":4.1,"y":95.8,"g":"V"},{"x":4.1,"y":94.1,"g":"V"},{"x":4.1,"y":93.2,"g":"V"},{"x":4.1,"y":92.3,"g":"V"},{"x":4.1,"y":91.4,"g":"V"},{"x":4.1,"y":90.6,"g":"V"},{"x":4.1,"y":89.4,"g":"V"},{"x":4.2,"y":94.8,"g":"V"},{"x":4.2,"y":93.8,"g":"V"},{"x":4.2,"y":92.9,"g":"V"},{"x":4.2,"y":92,"g":"V"},{"x":4.2,"y":91.1,"g":"V"},{"x":4.2,"y":90.1,"g":"V"},{"x":4.2,"y":89,"g":"V"},{"x":4.3,"y":94.3,"g":"V"},{"x":4.3,"y":93.4,"g":"V"},{"x":4.3,"y":92.5,"g":"V"},{"x":4.3,"y":91.6,"g":"V"},{"x":4.3,"y":90.7,"g":"V"},{"x":4.3,"y":89.7,"g":"V"},{"x":4.4,"y":95.6,"g":"V"},{"x":4.4,"y":93,"g":"V"},{"x":4.4,"y":92.1,"g":"V"},{"x":4.4,"y":91.2,"g":"V"},{"x":4.4,"y":90.3,"g":"V"},{"x":4.4,"y":89.3,"g":"V"},{"x":4.5,"y":93.7,"g":"V"},{"x":4.5,"y":92.6,"g":"V"},{"x":4.5,"y":91.5,"g":"V"},{"x":4.5,"y":90.9,"g":"V"},{"x":4.5,"y":89.9,"g":"V"},{"x":4.5,"y":88.8,"g":"V"},{"x":4.6,"y":92.2,"g":"V"},{"x":4.6,"y":91,"g":"V"},{"x":4.6,"y":90,"g":"V"},{"x":4.6,"y":89.1,"g":"V"},{"x":4.7,"y":92.8,"g":"V"},{"x":4.7,"y":91.8,"g":"V"},{"x":4.7,"y":90.5,"g":"V"},{"x":4.7,"y":89.5,"g":"V"},{"x":4.7,"y":88.5,"g":"V"},{"x":4.8,"y":91.4,"g":"V"},{"x":4.8,"y":90.2,"g":"V"},{"x":4.8,"y":89.2,"g":"V"},{"x":4.8,"y":88.2,"g":"V"},{"x":4.9,"y":92.1,"g":"V"},{"x":4.9,"y":90.8,"g":"V"},{"x":4.9,"y":89.8,"g":"V"},{"x":4.9,"y":88.7,"g":"V"},{"x":5,"y":91,"g":"V"},{"x":5,"y":89.5,"g":"V"},{"x":5,"y":88.4,"g":"V"},{"x":5.1,"y":90.3,"g":"V"},{"x":5.1,"y":89,"g":"V"},{"x":5.1,"y":87.9,"g":"V"},{"x":5.2,"y":89.7,"g":"V"},{"x":5.2,"y":88.6,"g":"V"},{"x":5.2,"y":87.3,"g":"V"},{"x":5.3,"y":92.6,"g":"V"},{"x":5.3,"y":90,"g":"V"},{"x":5.3,"y":88.3,"g":"V"},{"x":5.4,"y":89.3,"g":"V"},{"x":5.4,"y":87.8,"g":"V"},
{"x":0.29,"y":95.66,"g":"B"},{"x":0.5,"y":95.9,"g":"B"},{"x":0.25,"y":94.4,"g":"B"},{"x":0.52,"y":94.3,"g":"B"},{"x":0.18,"y":92.4,"g":"B"},{"x":0.68,"y":93.2,"g":"B"},{"x":0.84,"y":95.9,"g":"B"},{"x":0.86,"y":94.7,"g":"B"},{"x":0.97,"y":92.7,"g":"B"},{"x":1.14,"y":95.8,"g":"B"},{"x":1.34,"y":94.9,"g":"B"},{"x":1.2,"y":93.5,"g":"B"},{"x":0.29,"y":90.8,"g":"B"},{"x":0.18,"y":89.6,"g":"B"},{"x":0.1,"y":88.2,"g":"B"},{"x":0.1,"y":86.8,"g":"B"},{"x":0.32,"y":85.6,"g":"B"},{"x":0.38,"y":84,"g":"B"},{"x":0.45,"y":83.1,"g":"B"},{"x":0.49,"y":82.1,"g":"B"},{"x":0.68,"y":91.4,"g":"B"},{"x":0.75,"y":90.1,"g":"B"},{"x":0.83,"y":91.4,"g":"B"},{"x":0.95,"y":88.3,"g":"B"},{"x":0.97,"y":87.8,"g":"B"},{"x":0.97,"y":86.8,"g":"B"},{"x":1.05,"y":86.1,"g":"B"},{"x":1.17,"y":90.9,"g":"B"},{"x":1.5,"y":92.4,"g":"B"},{"x":1.49,"y":85.3,"g":"B"},{"x":1.55,"y":84.2,"g":"B"},{"x":1.66,"y":89.8,"g":"B"},{"x":1.71,"y":94.9,"g":"B"},{"x":1.8,"y":93.8,"g":"B"},{"x":1.83,"y":90.5,"g":"B"},{"x":1.89,"y":87.9,"g":"B"},{"x":1.96,"y":87,"g":"B"},{"x":2.16,"y":86,"g":"B"},{"x":2.2,"y":90.1,"g":"B"},{"x":2.31,"y":93.7,"g":"B"},{"x":2.37,"y":92.5,"g":"B"},{"x":2.43,"y":89.2,"g":"B"},{"x":2.68,"y":88.4,"g":"B"},{"x":2.72,"y":91.7,"g":"B"},{"x":2.87,"y":87.7,"g":"B"},{"x":2.89,"y":92.7,"g":"B"},{"x":2.99,"y":90.7,"g":"B"},{"x":3.09,"y":86.9,"g":"B"},{"x":3.27,"y":89,"g":"B"},{"x":3.32,"y":91.6,"g":"B"},{"x":3.37,"y":90,"g":"B"},{"x":3.74,"y":91,"g":"B"},{"x":3.89,"y":90.6,"g":"B"},{"x":3.88,"y":88.7,"g":"B"},{"x":4.09,"y":88,"g":"B"},{"x":4.43,"y":89.2,"g":"B"},{"x":4.91,"y":88.6,"g":"B"},{"x":5.19,"y":88.1,"g":"B"},
{"x":2,"y":97.7,"g":"U"},{"x":1.1,"y":96.2,"g":"U"},{"x":2,"y":94.7,"g":"U"},{"x":3.71,"y":94.7,"g":"U"},{"x":4.59,"y":93.2,"g":"U"},{"x":2,"y":91.7,"g":"U"},{"x":3.71,"y":91.7,"g":"U"},{"x":5.4,"y":91.7,"g":"U"},{"x":2.81,"y":90.2,"g":"U"},{"x":4.59,"y":90.2,"g":"U"},{"x":6.29,"y":90.2,"g":"U"},{"x":2,"y":88.7,"g":"U"},{"x":3.71,"y":88.7,"g":"U"},{"x":5.4,"y":88.7,"g":"U"},{"x":7.09,"y":88.7,"g":"U"},{"x":2.81,"y":87.2,"g":"U"},{"x":4.59,"y":87.2,"g":"U"},{"x":6.29,"y":87.2,"g":"U"},{"x":2,"y":85.7,"g":"U"},{"x":3.71,"y":85.7,"g":"U"},{"x":5.4,"y":85.7,"g":"U"},{"x":7.09,"y":85.7,"g":"U"},{"x":2.81,"y":84.1,"g":"U"},{"x":4.59,"y":84.1,"g":"U"},{"x":2,"y":82.6,"g":"U"},{"x":5.4,"y":82.6,"g":"U"},{"x":7.09,"y":82.6,"g":"U"},{"x":2.81,"y":81.2,"g":"U"},{"x":4.59,"y":81.2,"g":"U"},{"x":8,"y":81.2,"g":"U"},{"x":5.4,"y":79.6,"g":"U"},{"x":1.84,"y":78.2,"g":"U"},
{"x":1.8,"y":97.9,"g":"M"},{"x":3.54,"y":97.9,"g":"M"},{"x":0.93,"y":96.4,"g":"M"},{"x":2.66,"y":96.4,"g":"M"},{"x":1.8,"y":94.9,"g":"M"},{"x":3.54,"y":94.9,"g":"M"},{"x":0.93,"y":93.4,"g":"M"},{"x":2.66,"y":93.4,"g":"M"},{"x":4.39,"y":93.4,"g":"M"},{"x":0.08,"y":91.9,"g":"M"},{"x":1.8,"y":91.9,"g":"M"},{"x":3.54,"y":91.9,"g":"M"},{"x":5.26,"y":91.9,"g":"M"},{"x":0.93,"y":90.4,"g":"M"},{"x":2.66,"y":90.4,"g":"M"},{"x":4.39,"y":90.4,"g":"M"},{"x":6.12,"y":90.4,"g":"M"},{"x":1.8,"y":88.9,"g":"M"},{"x":3.54,"y":88.9,"g":"M"},{"x":5.26,"y":88.9,"g":"M"},{"x":2.66,"y":87.4,"g":"M"},{"x":4.39,"y":87.4,"g":"M"},{"x":6.12,"y":87.4,"g":"M"},{"x":1.8,"y":85.9,"g":"M"},{"x":3.54,"y":85.9,"g":"M"},{"x":5.26,"y":85.9,"g":"M"},{"x":2.66,"y":84.4,"g":"M"},{"x":4.39,"y":84.4,"g":"M"},{"x":6.12,"y":84.4,"g":"M"},{"x":5.26,"y":82.9,"g":"M"},{"x":4.39,"y":81.4,"g":"M"},{"x":6.12,"y":81.4,"g":"M"},{"x":5.26,"y":79.9,"g":"M"},{"x":6.12,"y":78.3,"g":"M"}
  ]},
  "layer": [
    {"mark": {"type": "point", "strokeWidth": 1, "opacity": 1},
     "encoding": {
       "x": {"field": "x", "type": "quantitative", "scale": {"domain": [-1.5, 9], "nice": false, "zero": false},
             "axis": {"orient": "bottom", "values": [-1,-0.5,0,0.5,1,1.5,2,2.5,3,3.5,4,4.5,5,5.5,6,6.5,7,7.5,8,8.5,9], "tickSize": {"condition": {"test": "datum.value % 1 === 0", "value": 4}, "value": 2.5}, "labelExpr": "datum.value % 1 === 0 ? '' + datum.value : ''", "labelPadding": 5, "grid": true, "title": "a", "titleFontSize": 15, "titleX": 253, "titleY": 49, "titleAlign": "center", "titleBaseline": "alphabetic", "titleAngle": 0}},
       "y": {"field": "y", "type": "quantitative", "scale": {"domain": [67.5, 102.5], "nice": false, "zero": false},
             "axis": {"orient": "left", "values": [70,72.5,75,77.5,80,82.5,85,87.5,90,92.5,95,97.5,100], "tickSize": {"condition": {"test": "datum.value % 5 === 0", "value": 4}, "value": 2.5}, "labelExpr": "datum.value % 5 === 0 ? '' + datum.value : ''", "labelPadding": 9, "grid": true, "title": "L", "titleFontSize": 15, "titleX": -52, "titleY": 192, "titleAlign": "center", "titleBaseline": "alphabetic", "titleAngle": -90}},
       "shape": {"field": "g", "type": "nominal", "scale": {"domain": ["V","B","U","M"], "range": ["M-1,0H1M0,-1V1", "M-1,-0.82H1V0.82H-1Z", "M-1,-0.82H1V0.82H-1Z", "M-1,0A1,0.84,0,1,1,1,0A1,0.84,0,1,1,-1,0Z"]},
                 "legend": {"orient": "none", "legendX": 6, "legendY": 268, "title": null, "labelExpr": "datum.label == 'V' ? 'Virgin-Olive-Oil Samples' : datum.label == 'B' ? 'BTB' : datum.label == 'U' ? 'UOCS' : 'MUOCS'", "strokeColor": "#555555", "fillColor": "#ffffff", "padding": 3.5, "symbolOffset": 16, "labelOffset": 10, "rowPadding": 1.8, "labelFontSize": 13.5, "labelFont": "DejaVu Sans", "labelColor": "#1a1a1a", "symbolStrokeWidth": 1, "labelLimit": 400}},
       "fill": {"field": "g", "type": "nominal", "scale": {"domain": ["V","B","U","M"], "range": ["transparent", "#ffffff", "#000000", "#3c3c3c"]},
                 "legend": {"orient": "none", "legendX": 6, "legendY": 268, "title": null, "labelExpr": "datum.label == 'V' ? 'Virgin-Olive-Oil Samples' : datum.label == 'B' ? 'BTB' : datum.label == 'U' ? 'UOCS' : 'MUOCS'", "strokeColor": "#555555", "fillColor": "#ffffff", "padding": 3.5, "symbolOffset": 16, "labelOffset": 10, "rowPadding": 1.8, "labelFontSize": 13.5, "labelFont": "DejaVu Sans", "labelColor": "#1a1a1a", "symbolStrokeWidth": 1, "labelLimit": 400}},
       "stroke": {"field": "g", "type": "nominal", "scale": {"domain": ["V","B","U","M"], "range": ["#b8b8b8", "#767676", "#000000", "#3c3c3c"]},
                 "legend": {"orient": "none", "legendX": 6, "legendY": 268, "title": null, "labelExpr": "datum.label == 'V' ? 'Virgin-Olive-Oil Samples' : datum.label == 'B' ? 'BTB' : datum.label == 'U' ? 'UOCS' : 'MUOCS'", "strokeColor": "#555555", "fillColor": "#ffffff", "padding": 3.5, "symbolOffset": 16, "labelOffset": 10, "rowPadding": 1.8, "labelFontSize": 13.5, "labelFont": "DejaVu Sans", "labelColor": "#1a1a1a", "symbolStrokeWidth": 1, "labelLimit": 400}},
       "size": {"field": "g", "type": "nominal", "scale": {"domain": ["V","B","U","M"], "range": [85, 64, 68, 144]},
                 "legend": {"orient": "none", "legendX": 6, "legendY": 268, "title": null, "labelExpr": "datum.label == 'V' ? 'Virgin-Olive-Oil Samples' : datum.label == 'B' ? 'BTB' : datum.label == 'U' ? 'UOCS' : 'MUOCS'", "strokeColor": "#555555", "fillColor": "#ffffff", "padding": 3.5, "symbolOffset": 16, "labelOffset": 10, "rowPadding": 1.8, "labelFontSize": 13.5, "labelFont": "DejaVu Sans", "labelColor": "#1a1a1a", "symbolStrokeWidth": 1, "labelLimit": 400}}
     }},
    {"data": {"values": [{"x": 0, "y": 80}]}, "mark": {"type": "point", "opacity": 0},
     "encoding": {
       "x": {"field": "x", "type": "quantitative", "scale": {"domain": [-1.5, 9], "nice": false, "zero": false},
             "axis": {"orient": "top", "values": [-1,-0.5,0,0.5,1,1.5,2,2.5,3,3.5,4,4.5,5,5.5,6,6.5,7,7.5,8,8.5,9], "tickSize": {"condition": {"test": "datum.value % 1 === 0", "value": -4}, "value": -2.5}, "labels": false, "grid": false, "title": null}},
       "y": {"field": "y", "type": "quantitative", "scale": {"domain": [67.5, 102.5], "nice": false, "zero": false},
             "axis": {"orient": "right", "values": [70,72.5,75,77.5,80,82.5,85,87.5,90,92.5,95,97.5,100], "tickSize": {"condition": {"test": "datum.value % 5 === 0", "value": -4}, "value": -2.5}, "labels": false, "grid": false, "title": null}}
     }},
    {"data": {"values": [{"x": 0, "y": 80}]}, "mark": {"type": "point", "opacity": 0},
     "encoding": {
       "x": {"field": "x", "type": "quantitative", "scale": {"domain": [-1.5, 9], "nice": false, "zero": false},
             "axis": {"orient": "bottom", "labels": false, "ticks": false, "domain": false, "grid": false, "title": "99d", "titleFontSize": 9, "titleX": 260, "titleY": 55, "titleAlign": "left", "titleBaseline": "alphabetic", "titleAngle": 0}},
       "y": {"field": "y", "type": "quantitative", "scale": {"domain": [67.5, 102.5], "nice": false, "zero": false},
             "axis": {"orient": "left", "labels": false, "ticks": false, "domain": false, "grid": false, "title": "99d", "titleFontSize": 9, "titleX": -47, "titleY": 186, "titleAlign": "left", "titleBaseline": "alphabetic", "titleAngle": -90}}
     }}
  ],
  "resolve": {"axis": {"x": "independent", "y": "independent"}}
},
{
  "width": 531, "height": 350,
  "data": {"values": [
{"x":9.2,"y":98.3,"g":"V"},{"x":10.5,"y":98,"g":"V"},{"x":11.3,"y":98.3,"g":"V"},{"x":12,"y":98.9,"g":"V"},{"x":12.3,"y":99.2,"g":"V"},{"x":13,"y":97.5,"g":"V"},{"x":12,"y":97,"g":"V"},{"x":11.8,"y":96.5,"g":"V"},{"x":13.7,"y":98.7,"g":"V"},{"x":14.5,"y":98.2,"g":"V"},{"x":14.8,"y":97.8,"g":"V"},{"x":15.2,"y":98.3,"g":"V"},{"x":15.5,"y":96.1,"g":"V"},{"x":16.1,"y":97.2,"g":"V"},{"x":15.8,"y":93,"g":"V"},{"x":16.5,"y":90.3,"g":"V"},{"x":14,"y":97.2,"g":"V"},{"x":12.5,"y":96.3,"g":"V"},
{"x":17,"y":98,"g":"V"},{"x":17,"y":96.8,"g":"V"},{"x":17,"y":95.6,"g":"V"},{"x":18,"y":97.4,"g":"V"},{"x":18,"y":96.2,"g":"V"},{"x":18,"y":94.8,"g":"V"},{"x":19,"y":98.2,"g":"V"},{"x":19,"y":97,"g":"V"},{"x":19,"y":95.9,"g":"V"},{"x":20,"y":97.6,"g":"V"},{"x":20,"y":96.5,"g":"V"},{"x":20,"y":95.3,"g":"V"},{"x":20,"y":94.1,"g":"V"},{"x":21,"y":98.1,"g":"V"},{"x":21,"y":97.2,"g":"V"},{"x":21,"y":96,"g":"V"},{"x":21,"y":94.6,"g":"V"},{"x":21,"y":93.4,"g":"V"},{"x":22,"y":97.5,"g":"V"},{"x":22,"y":96.3,"g":"V"},{"x":22,"y":95.1,"g":"V"},{"x":22,"y":93.9,"g":"V"},{"x":22,"y":92.8,"g":"V"},{"x":23,"y":97.9,"g":"V"},{"x":23,"y":96.9,"g":"V"},{"x":23,"y":95.7,"g":"V"},{"x":23,"y":94.4,"g":"V"},{"x":23,"y":93.2,"g":"V"},{"x":24,"y":97.3,"g":"V"},{"x":24,"y":96,"g":"V"},{"x":24,"y":95,"g":"V"},{"x":24,"y":93.7,"g":"V"},{"x":24,"y":92.5,"g":"V"},{"x":25,"y":96.7,"g":"V"},{"x":25,"y":95.6,"g":"V"},{"x":25,"y":94.3,"g":"V"},{"x":25,"y":93.1,"g":"V"},{"x":25,"y":91.9,"g":"V"},{"x":26,"y":97,"g":"V"},{"x":26,"y":96.1,"g":"V"},{"x":26,"y":94.9,"g":"V"},{"x":26,"y":93.6,"g":"V"},{"x":26,"y":92.4,"g":"V"},{"x":27,"y":96.4,"g":"V"},{"x":27,"y":95.2,"g":"V"},{"x":27,"y":94,"g":"V"},{"x":27,"y":92.9,"g":"V"},{"x":27,"y":91.6,"g":"V"},{"x":28,"y":96.8,"g":"V"},{"x":28,"y":95.8,"g":"V"},{"x":28,"y":94.6,"g":"V"},{"x":28,"y":93.4,"g":"V"},{"x":28,"y":92.2,"g":"V"},{"x":28,"y":90.9,"g":"V"},{"x":29,"y":96.2,"g":"V"},{"x":29,"y":95,"g":"V"},{"x":29,"y":93.9,"g":"V"},{"x":29,"y":92.7,"g":"V"},{"x":29,"y":91.5,"g":"V"},{"x":30,"y":96.6,"g":"V"},{"x":30,"y":95.4,"g":"V"},{"x":30,"y":94.3,"g":"V"},{"x":30,"y":93.1,"g":"V"},{"x":30,"y":92,"g":"V"},{"x":30,"y":90.6,"g":"V"},{"x":31,"y":95.9,"g":"V"},{"x":31,"y":94.8,"g":"V"},{"x":31,"y":93.7,"g":"V"},{"x":31,"y":92.5,"g":"V"},{"x":31,"y":91.3,"g":"V"},{"x":31,"y":90,"g":"V"},{"x":32,"y":96.3,"g":"V"},{"x":32,"y":95.2,"g":"V"},{"x":32,"y":94.1,"g":"V"},{"x":32,"y":92.9,"g":"V"},{"x":32,"y":91.8,"g":"V"},{"x":32,"y":90.4,"g":"V"},{"x":32,"y":89.2,"g":"V"},{"x":33,"y":95.6,"g":"V"},{"x":33,"y":94.5,"g":"V"},{"x":33,"y":93.4,"g":"V"},{"x":33,"y":92.3,"g":"V"},{"x":33,"y":91.1,"g":"V"},{"x":33,"y":89.8,"g":"V"},{"x":34,"y":95.1,"g":"V"},{"x":34,"y":94,"g":"V"},{"x":34,"y":92.8,"g":"V"},{"x":34,"y":91.7,"g":"V"},{"x":34,"y":90.5,"g":"V"},{"x":34,"y":89.3,"g":"V"},{"x":35,"y":94.7,"g":"V"},{"x":35,"y":93.6,"g":"V"},{"x":35,"y":92.4,"g":"V"},{"x":35,"y":91.3,"g":"V"},{"x":35,"y":90.1,"g":"V"},{"x":35,"y":88.8,"g":"V"},{"x":36,"y":94.2,"g":"V"},{"x":36,"y":93.1,"g":"V"},{"x":36,"y":92,"g":"V"},{"x":36,"y":90.8,"g":"V"},{"x":36,"y":89.6,"g":"V"},{"x":36,"y":88.3,"g":"V"},{"x":37,"y":93.8,"g":"V"},{"x":37,"y":92.6,"g":"V"},{"x":37,"y":91.5,"g":"V"},{"x":37,"y":90.4,"g":"V"},{"x":37,"y":89.2,"g":"V"},{"x":37,"y":87.9,"g":"V"},{"x":38,"y":93.3,"g":"V"},{"x":38,"y":92.2,"g":"V"},{"x":38,"y":91,"g":"V"},{"x":38,"y":89.9,"g":"V"},{"x":38,"y":88.6,"g":"V"},{"x":39,"y":92.8,"g":"V"},{"x":39,"y":91.7,"g":"V"},{"x":39,"y":90.6,"g":"V"},{"x":39,"y":89.4,"g":"V"},{"x":39,"y":88.1,"g":"V"},{"x":39,"y":86.9,"g":"V"},{"x":40,"y":94.3,"g":"V"},{"x":40,"y":92.4,"g":"V"},{"x":40,"y":91.3,"g":"V"},{"x":40,"y":90.1,"g":"V"},{"x":40,"y":88.9,"g":"V"},{"x":40,"y":87.6,"g":"V"},{"x":41,"y":91.8,"g":"V"},{"x":41,"y":90.7,"g":"V"},{"x":41,"y":89.5,"g":"V"},{"x":41,"y":88.4,"g":"V"},{"x":41,"y":87.1,"g":"V"},{"x":42,"y":91.4,"g":"V"},{"x":42,"y":90.3,"g":"V"},{"x":42,"y":89,"g":"V"},{"x":42,"y":87.8,"g":"V"},{"x":42,"y":86.6,"g":"V"},{"x":43,"y":92.7,"g":"V"},{"x":43,"y":90.8,"g":"V"},{"x":43,"y":89.7,"g":"V"},{"x":43,"y":88.5,"g":"V"},{"x":43,"y":87.3,"g":"V"},{"x":44,"y":90.4,"g":"V"},{"x":44,"y":89.2,"g":"V"},{"x":44,"y":88,"g":"V"},{"x":44,"y":86.7,"g":"V"},{"x":44,"y":85.5,"g":"V"},{"x":45,"y":89.8,"g":"V"},{"x":45,"y":88.6,"g":"V"},{"x":45,"y":87.4,"g":"V"},{"x":45,"y":86.2,"g":"V"},{"x":45,"y":84.9,"g":"V"},{"x":46,"y":90.9,"g":"V"},{"x":46,"y":89.3,"g":"V"},{"x":46,"y":88.1,"g":"V"},{"x":46,"y":86.9,"g":"V"},{"x":46,"y":85.6,"g":"V"},{"x":47,"y":88.8,"g":"V"},{"x":47,"y":87.5,"g":"V"},{"x":47,"y":86.3,"g":"V"},{"x":47,"y":84.7,"g":"V"},{"x":48,"y":87,"g":"V"},{"x":48,"y":83,"g":"V"},
{"x":19.1,"y":88.3,"g":"V"},{"x":21.5,"y":87.1,"g":"V"},{"x":22.2,"y":88.6,"g":"V"},{"x":23.4,"y":82.1,"g":"V"},{"x":24.3,"y":86.5,"g":"V"},{"x":24.8,"y":85.8,"g":"V"},{"x":25.8,"y":78.6,"g":"V"},{"x":26.4,"y":88.4,"g":"V"},{"x":27.8,"y":85.1,"g":"V"},{"x":28.4,"y":82.4,"g":"V"},{"x":29.4,"y":86.1,"g":"V"},{"x":30.4,"y":84.4,"g":"V"},{"x":31.3,"y":83.7,"g":"V"},{"x":32.6,"y":83.3,"g":"V"},{"x":33.1,"y":84.7,"g":"V"},{"x":34.4,"y":82.3,"g":"V"},{"x":35.6,"y":84.8,"g":"V"},{"x":36.1,"y":81.2,"g":"V"},{"x":36.6,"y":83.6,"g":"V"},{"x":37.3,"y":74.8,"g":"V"},{"x":37.1,"y":82.2,"g":"V"},{"x":37.6,"y":80.5,"g":"V"},{"x":38.6,"y":80.1,"g":"V"},{"x":38.9,"y":84.5,"g":"V"},{"x":39.3,"y":85.7,"g":"V"},{"x":39.8,"y":80.6,"g":"V"},{"x":40.3,"y":82.8,"g":"V"},{"x":40.7,"y":75.9,"g":"V"},{"x":41.2,"y":79.6,"g":"V"},{"x":42.3,"y":82.8,"g":"V"},{"x":42.7,"y":84.2,"g":"V"},{"x":43.5,"y":81.5,"g":"V"},{"x":43.8,"y":79.1,"g":"V"},{"x":44.4,"y":83.2,"g":"V"},{"x":44.8,"y":85.1,"g":"V"},{"x":45.1,"y":76.8,"g":"V"},{"x":45.3,"y":80.2,"g":"V"},{"x":45.9,"y":82.4,"g":"V"},{"x":46.3,"y":78.3,"g":"V"},{"x":46.5,"y":74,"g":"V"},{"x":46.3,"y":72.3,"g":"V"},{"x":46.2,"y":71.5,"g":"V"},{"x":47.3,"y":76.6,"g":"V"},{"x":47.5,"y":79.3,"g":"V"},{"x":48.2,"y":81.6,"g":"V"},{"x":46.9,"y":80.9,"g":"V"},{"x":20.8,"y":91.2,"g":"V"},{"x":22.9,"y":89.3,"g":"V"},{"x":18.5,"y":92.2,"g":"V"},{"x":17.3,"y":93.6,"g":"V"},{"x":16,"y":94.6,"g":"V"},{"x":20,"y":90,"g":"V"},
{"x":8.94,"y":94.39,"g":"B"},{"x":9.39,"y":95.66,"g":"B"},{"x":9.39,"y":95.92,"g":"B"},{"x":10,"y":95.72,"g":"B"},{"x":9.72,"y":92.82,"g":"B"},{"x":14.42,"y":92.42,"g":"B"},{"x":15.19,"y":91.48,"g":"B"},{"x":15.19,"y":94.49,"g":"B"},{"x":15.76,"y":94.82,"g":"B"},{"x":18.69,"y":90.88,"g":"B"},{"x":19.01,"y":91.48,"g":"B"},{"x":19.01,"y":93.18,"g":"B"},{"x":19.82,"y":93.48,"g":"B"},{"x":20.02,"y":92.88,"g":"B"},{"x":20.23,"y":93.72,"g":"B"},{"x":23.31,"y":92.45,"g":"B"},{"x":21.69,"y":89.68,"g":"B"},{"x":21.93,"y":90.14,"g":"B"},{"x":25.02,"y":90.91,"g":"B"},{"x":25.99,"y":91.48,"g":"B"},{"x":24.04,"y":88.27,"g":"B"},{"x":24.53,"y":87.94,"g":"B"},{"x":25.83,"y":86.97,"g":"B"},{"x":26.07,"y":88.17,"g":"B"},{"x":26.44,"y":88.21,"g":"B"},{"x":27.37,"y":89.91,"g":"B"},{"x":27.65,"y":90.64,"g":"B"},{"x":27.69,"y":85.63,"g":"B"},{"x":28.34,"y":86.97,"g":"B"},{"x":29.16,"y":88.97,"g":"B"},{"x":29.44,"y":83.96,"g":"B"},{"x":29.56,"y":86.3,"g":"B"},{"x":30.17,"y":83.13,"g":"B"},{"x":30.17,"y":90.14,"g":"B"},{"x":30.45,"y":88.04,"g":"B"},{"x":31.1,"y":85.3,"g":"B"},{"x":31.31,"y":82.19,"g":"B"},{"x":31.31,"y":89.11,"g":"B"},{"x":31.71,"y":87.24,"g":"B"},{"x":31.92,"y":89.31,"g":"B"},{"x":32.28,"y":87.77,"g":"B"},{"x":32.36,"y":84.3,"g":"B"},{"x":32.97,"y":86.03,"g":"B"},{"x":33.3,"y":86.97,"g":"B"},{"x":33.62,"y":88.04,"g":"B"},{"x":34.63,"y":88.07,"g":"B"},
{"x":20.8,"y":97.7,"g":"U"},{"x":23.3,"y":96.2,"g":"U"},{"x":20.8,"y":94.7,"g":"U"},{"x":23.3,"y":94.7,"g":"U"},{"x":25.7,"y":94.7,"g":"U"},{"x":28.2,"y":94.7,"g":"U"},{"x":30.6,"y":94.7,"g":"U"},{"x":33.1,"y":94.7,"g":"U"},{"x":38,"y":94.7,"g":"U"},{"x":25.7,"y":93.2,"g":"U"},{"x":30.6,"y":93.2,"g":"U"},{"x":35.5,"y":93.2,"g":"U"},{"x":40.4,"y":93.2,"g":"U"},{"x":23.3,"y":91.7,"g":"U"},{"x":28.2,"y":91.7,"g":"U"},{"x":33.1,"y":91.7,"g":"U"},{"x":35.5,"y":91.7,"g":"U"},{"x":38,"y":91.7,"g":"U"},{"x":42.9,"y":91.7,"g":"U"},{"x":30.6,"y":90.2,"g":"U"},{"x":35.5,"y":90.2,"g":"U"},{"x":38,"y":90.2,"g":"U"},{"x":40.4,"y":90.2,"g":"U"},{"x":42.9,"y":90.2,"g":"U"},{"x":45.3,"y":90.2,"g":"U"},{"x":33.1,"y":88.7,"g":"U"},{"x":35.5,"y":88.7,"g":"U"},{"x":38,"y":88.7,"g":"U"},{"x":40.4,"y":88.7,"g":"U"},{"x":42.9,"y":88.7,"g":"U"},{"x":45.3,"y":88.7,"g":"U"},{"x":47.8,"y":88.7,"g":"U"},{"x":35.5,"y":87.2,"g":"U"},{"x":38,"y":87.2,"g":"U"},{"x":40.4,"y":87.2,"g":"U"},{"x":42.9,"y":87.2,"g":"U"},{"x":45.3,"y":87.2,"g":"U"},{"x":47.8,"y":87.2,"g":"U"},{"x":38,"y":85.7,"g":"U"},{"x":40.4,"y":85.7,"g":"U"},{"x":42.9,"y":85.7,"g":"U"},{"x":45.3,"y":85.7,"g":"U"},{"x":47.8,"y":85.7,"g":"U"},{"x":35.5,"y":84.2,"g":"U"},{"x":40.4,"y":84.2,"g":"U"},{"x":42.9,"y":84.2,"g":"U"},{"x":45.3,"y":84.2,"g":"U"},{"x":47.8,"y":84.2,"g":"U"},{"x":42.9,"y":82.7,"g":"U"},{"x":45.3,"y":82.7,"g":"U"},{"x":47.8,"y":82.7,"g":"U"},{"x":45.3,"y":81.2,"g":"U"},{"x":47.8,"y":81.2,"g":"U"},{"x":42.9,"y":79.7,"g":"U"},{"x":47.8,"y":79.7,"g":"U"},{"x":52.7,"y":78.2,"g":"U"},
{"x":19.2,"y":97.9,"g":"M"},{"x":21.6,"y":97.9,"g":"M"},{"x":16.8,"y":96.4,"g":"M"},{"x":19.2,"y":96.4,"g":"M"},{"x":24.1,"y":96.4,"g":"M"},{"x":31.4,"y":96.4,"g":"M"},{"x":14.3,"y":94.9,"g":"M"},{"x":19.2,"y":94.9,"g":"M"},{"x":21.6,"y":94.9,"g":"M"},{"x":26.5,"y":94.9,"g":"M"},{"x":29,"y":94.9,"g":"M"},{"x":33.8,"y":94.9,"g":"M"},{"x":24.1,"y":93.4,"g":"M"},{"x":29,"y":93.4,"g":"M"},{"x":31.4,"y":93.4,"g":"M"},{"x":33.8,"y":93.4,"g":"M"},{"x":36.3,"y":93.4,"g":"M"},{"x":38.7,"y":93.4,"g":"M"},{"x":21.6,"y":91.9,"g":"M"},{"x":26.5,"y":91.9,"g":"M"},{"x":29,"y":91.9,"g":"M"},{"x":31.4,"y":91.9,"g":"M"},{"x":33.8,"y":91.9,"g":"M"},{"x":36.3,"y":91.9,"g":"M"},{"x":41.1,"y":91.9,"g":"M"},{"x":24.1,"y":90.4,"g":"M"},{"x":29,"y":90.4,"g":"M"},{"x":31.4,"y":90.4,"g":"M"},{"x":36.3,"y":90.4,"g":"M"},{"x":38.7,"y":90.4,"g":"M"},{"x":41.1,"y":90.4,"g":"M"},{"x":43.6,"y":90.4,"g":"M"},{"x":26.5,"y":88.9,"g":"M"},{"x":33.8,"y":88.9,"g":"M"},{"x":38.7,"y":88.9,"g":"M"},{"x":41.1,"y":88.9,"g":"M"},{"x":43.6,"y":88.9,"g":"M"},{"x":46,"y":88.9,"g":"M"},{"x":29,"y":87.4,"g":"M"},{"x":36.3,"y":87.4,"g":"M"},{"x":41.1,"y":87.4,"g":"M"},{"x":43.6,"y":87.4,"g":"M"},{"x":46,"y":87.4,"g":"M"},{"x":33.8,"y":85.9,"g":"M"},{"x":38.7,"y":85.9,"g":"M"},{"x":41.1,"y":85.9,"g":"M"},{"x":43.6,"y":85.9,"g":"M"},{"x":46,"y":85.9,"g":"M"},{"x":36.3,"y":84.4,"g":"M"},{"x":41.1,"y":84.4,"g":"M"},{"x":43.6,"y":84.4,"g":"M"},{"x":46,"y":84.4,"g":"M"},{"x":46,"y":82.9,"g":"M"},{"x":41.1,"y":81.4,"g":"M"},{"x":43.6,"y":81.4,"g":"M"},{"x":46,"y":79.9,"g":"M"},{"x":41.1,"y":78.4,"g":"M"}
  ]},
  "layer": [
    {"mark": {"type": "point", "strokeWidth": 1, "opacity": 1},
     "encoding": {
       "x": {"field": "x", "type": "quantitative", "scale": {"domain": [5, 60], "nice": false, "zero": false},
             "axis": {"orient": "bottom", "values": [10,15,20,25,30,35,40,45,50,55,60], "tickSize": {"condition": {"test": "datum.value % 10 === 0", "value": 4}, "value": 2.5}, "labelExpr": "datum.value % 10 === 0 ? '' + datum.value : ''", "labelAlign": {"condition": {"test": "datum.value === 60", "value": "right"}, "value": "center"}, "labelOffset": {"condition": {"test": "datum.value === 60", "value": 4}, "value": 0}, "labelPadding": 5, "grid": true, "title": "b", "titleFontSize": 15, "titleX": 252, "titleY": 40, "titleAlign": "center", "titleBaseline": "alphabetic", "titleAngle": 0}},
       "y": {"field": "y", "type": "quantitative", "scale": {"domain": [67.5, 102.5], "nice": false, "zero": false},
             "axis": {"orient": "left", "values": [70,72.5,75,77.5,80,82.5,85,87.5,90,92.5,95,97.5,100], "tickSize": {"condition": {"test": "datum.value % 5 === 0", "value": 4}, "value": 2.5}, "labelExpr": "datum.value % 5 === 0 ? '' + datum.value : ''", "labelPadding": 9, "grid": true, "title": "L", "titleFontSize": 15, "titleX": -50, "titleY": 189, "titleAlign": "center", "titleBaseline": "alphabetic", "titleAngle": -90}},
       "shape": {"field": "g", "type": "nominal", "scale": {"domain": ["V","B","U","M"], "range": ["M-1,0H1M0,-1V1", "M-1,-0.82H1V0.82H-1Z", "M-1,-0.82H1V0.82H-1Z", "M-1,0A1,0.84,0,1,1,1,0A1,0.84,0,1,1,-1,0Z"]},
                 "legend": {"orient": "none", "legendX": 10, "legendY": 253, "title": null, "labelExpr": "datum.label == 'V' ? 'Virgin-Olive-Oil Samples' : datum.label == 'B' ? 'ABT' : datum.label == 'U' ? 'UOCS' : 'MUOCS'", "strokeColor": "#555555", "fillColor": "#ffffff", "padding": 3.5, "symbolOffset": 16, "labelOffset": 10, "rowPadding": 1.8, "labelFontSize": 13.5, "labelFont": "DejaVu Sans", "labelColor": "#1a1a1a", "symbolStrokeWidth": 1, "labelLimit": 400}},
       "fill": {"field": "g", "type": "nominal", "scale": {"domain": ["V","B","U","M"], "range": ["transparent", "#ffffff", "#000000", "#3c3c3c"]},
                 "legend": {"orient": "none", "legendX": 10, "legendY": 253, "title": null, "labelExpr": "datum.label == 'V' ? 'Virgin-Olive-Oil Samples' : datum.label == 'B' ? 'ABT' : datum.label == 'U' ? 'UOCS' : 'MUOCS'", "strokeColor": "#555555", "fillColor": "#ffffff", "padding": 3.5, "symbolOffset": 16, "labelOffset": 10, "rowPadding": 1.8, "labelFontSize": 13.5, "labelFont": "DejaVu Sans", "labelColor": "#1a1a1a", "symbolStrokeWidth": 1, "labelLimit": 400}},
       "stroke": {"field": "g", "type": "nominal", "scale": {"domain": ["V","B","U","M"], "range": ["#b8b8b8", "#767676", "#000000", "#3c3c3c"]},
                 "legend": {"orient": "none", "legendX": 10, "legendY": 253, "title": null, "labelExpr": "datum.label == 'V' ? 'Virgin-Olive-Oil Samples' : datum.label == 'B' ? 'ABT' : datum.label == 'U' ? 'UOCS' : 'MUOCS'", "strokeColor": "#555555", "fillColor": "#ffffff", "padding": 3.5, "symbolOffset": 16, "labelOffset": 10, "rowPadding": 1.8, "labelFontSize": 13.5, "labelFont": "DejaVu Sans", "labelColor": "#1a1a1a", "symbolStrokeWidth": 1, "labelLimit": 400}},
       "size": {"field": "g", "type": "nominal", "scale": {"domain": ["V","B","U","M"], "range": [85, 64, 68, 144]},
                 "legend": {"orient": "none", "legendX": 10, "legendY": 253, "title": null, "labelExpr": "datum.label == 'V' ? 'Virgin-Olive-Oil Samples' : datum.label == 'B' ? 'ABT' : datum.label == 'U' ? 'UOCS' : 'MUOCS'", "strokeColor": "#555555", "fillColor": "#ffffff", "padding": 3.5, "symbolOffset": 16, "labelOffset": 10, "rowPadding": 1.8, "labelFontSize": 13.5, "labelFont": "DejaVu Sans", "labelColor": "#1a1a1a", "symbolStrokeWidth": 1, "labelLimit": 400}}
     }},
    {"data": {"values": [{"x": 20, "y": 80}]}, "mark": {"type": "point", "opacity": 0},
     "encoding": {
       "x": {"field": "x", "type": "quantitative", "scale": {"domain": [5, 60], "nice": false, "zero": false},
             "axis": {"orient": "top", "values": [10,15,20,25,30,35,40,45,50,55,60], "tickSize": {"condition": {"test": "datum.value % 10 === 0", "value": -4}, "value": -2.5}, "labels": false, "grid": false, "title": null}},
       "y": {"field": "y", "type": "quantitative", "scale": {"domain": [67.5, 102.5], "nice": false, "zero": false},
             "axis": {"orient": "right", "values": [70,72.5,75,77.5,80,82.5,85,87.5,90,92.5,95,97.5,100], "tickSize": {"condition": {"test": "datum.value % 5 === 0", "value": -4}, "value": -2.5}, "labels": false, "grid": false, "title": null}}
     }},
    {"data": {"values": [{"x": 20, "y": 80}]}, "mark": {"type": "point", "opacity": 0},
     "encoding": {
       "x": {"field": "x", "type": "quantitative", "scale": {"domain": [5, 60], "nice": false, "zero": false},
             "axis": {"orient": "bottom", "labels": false, "ticks": false, "domain": false, "grid": false, "title": "99d", "titleFontSize": 9, "titleX": 261, "titleY": 45, "titleAlign": "left", "titleBaseline": "alphabetic", "titleAngle": 0}},
       "y": {"field": "y", "type": "quantitative", "scale": {"domain": [67.5, 102.5], "nice": false, "zero": false},
             "axis": {"orient": "left", "labels": false, "ticks": false, "domain": false, "grid": false, "title": "99d", "titleFontSize": 9, "titleX": -45, "titleY": 182, "titleAlign": "left", "titleBaseline": "alphabetic", "titleAngle": -90}}
     }}
  ],
  "resolve": {"axis": {"x": "independent", "y": "independent"}}
}
]
}
